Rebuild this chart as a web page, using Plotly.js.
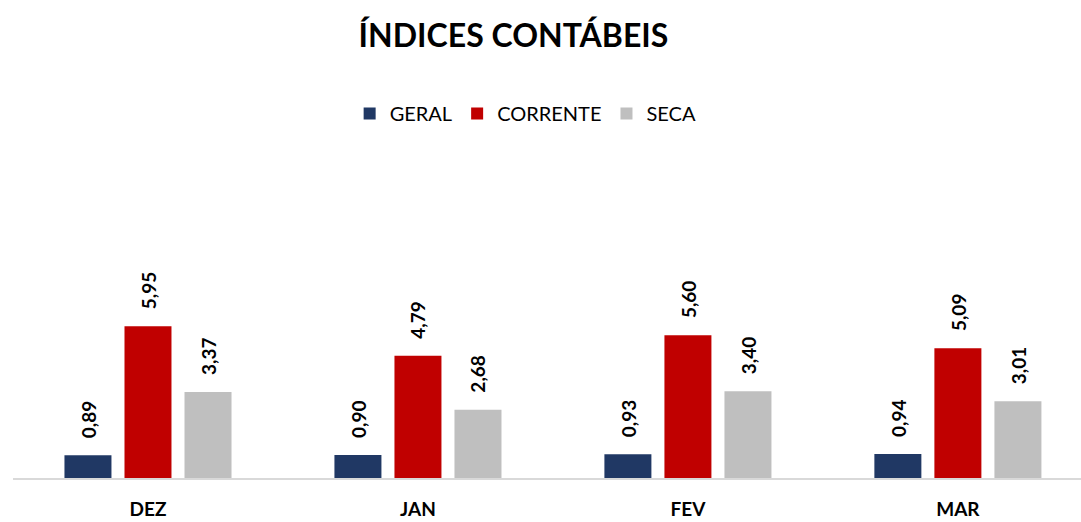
<!DOCTYPE html>
<html>
<head>
<meta charset="utf-8">
<script src="https://cdn.plot.ly/plotly-3.0.1.min.js"></script>
<style>html,body{margin:0;padding:0;background:#fff;}#chart{width:1081px;height:522px;}</style>
</head>
<body>
<div id="chart"></div>
<script>
const categories = ["DEZ", "JAN", "FEV", "MAR"];
const seriesNames = ["GERAL", "CORRENTE", "SECA"];
const geral = [0.89, 0.90, 0.93, 0.94];
const corrente = [5.95, 4.79, 5.60, 5.09];
const seca = [3.37, 2.68, 3.40, 3.01];
const colors = ["#203864", "#C00000", "#BFBFBF"];
const fontFam = "Lato, 'Open Sans', sans-serif";

const seriesValues = [geral, corrente, seca];
const traces = seriesValues.map((vals, k) => ({
  type: "bar",
  name: seriesNames[k],
  x: categories,
  y: vals,
  marker: {color: colors[k]},
  hoverinfo: "none"
}));

const fmt = v => v.toFixed(2).replace(".", ",");
const bargap = 0.333;
const slot = (1 - bargap) / 3;
const annotations = [];
seriesValues.forEach((vals, k) => {
  vals.forEach((v, i) => {
    annotations.push({
      x: i + (k - 1) * slot,
      y: v,
      xref: "x", yref: "y",
      text: "<b>" + fmt(v) + "</b>",
      showarrow: false,
      textangle: -90,
      xanchor: "center",
      yanchor: "bottom",
      yshift: 15,
      font: {family: fontFam, size: 19, color: "#000"}
    });
  });
});

const layout = {
  width: 1081, height: 522,
  margin: {l: 13, r: 0, t: 172, b: 44},
  paper_bgcolor: "#fff", plot_bgcolor: "#fff",
  title: {text: "<b>ÍNDICES CONTÁBEIS</b>", x: 0.475, xanchor: "center", y: 0.932, yanchor: "middle",
          font: {family: fontFam, size: 32, color: "#000"}},
  showlegend: true,
  legend: {orientation: "h", x: 0.48, xanchor: "center", y: 0.82, yref: "container", yanchor: "top",
           xref: "paper", font: {family: fontFam, size: 20, color: "#000"}, itemwidth: 30, traceorder: "normal"},
  barmode: "group",
  bargap: bargap,
  bargroupgap: 0.217,
  xaxis: {type: "category", range: [-0.5, 3.456], showgrid: false, zeroline: false,
          showline: true, linecolor: "#D9D9D9", linewidth: 1.5, ticks: "",
          tickfont: {family: fontFam, size: 19, color: "#000"}, ticklabelstandoff: 14,
          tickvals: categories, ticktext: categories.map(c => "<b>" + c + "</b>")},
  yaxis: {range: [0, 12], visible: false, showgrid: false, zeroline: false},
  annotations: annotations
};
Plotly.newPlot("chart", traces, layout, {displayModeBar: false, staticPlot: true});
</script>
</body>
</html>
